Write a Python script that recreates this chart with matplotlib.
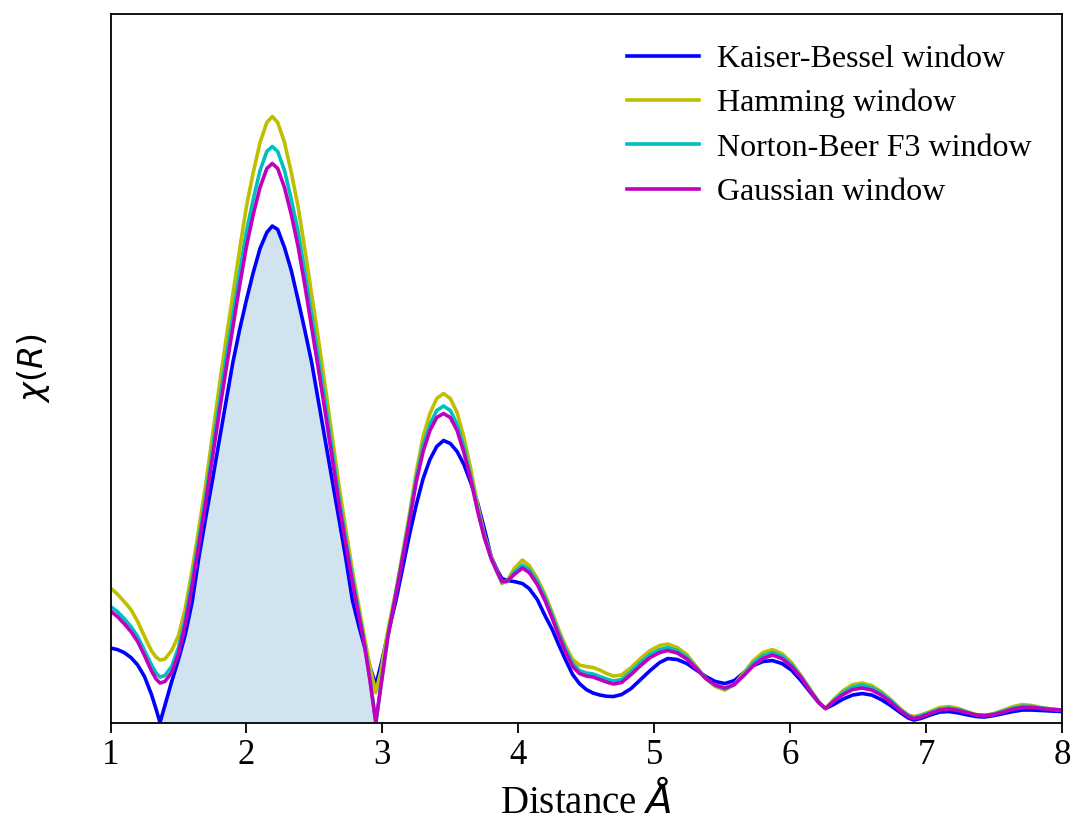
import matplotlib.pyplot as plt
import numpy as np

plt.rcParams['font.family'] = ['Liberation Serif', 'DejaVu Serif']
plt.rcParams['mathtext.fontset'] = 'dejavusans'

# distance grid (Angstrom) and |chi(R)| (arbitrary units)
distance = [1.00, 1.05, 1.10, 1.15, 1.20, 1.25, 1.30, 1.335, 1.364, 1.40,
            1.45, 1.50, 1.55, 1.60, 1.65, 1.70, 1.75, 1.80, 1.85, 1.90,
            1.95, 2.00, 2.05, 2.10, 2.15, 2.19, 2.23, 2.28, 2.33, 2.38,
            2.43, 2.48, 2.53, 2.58, 2.63, 2.68, 2.73, 2.78, 2.83, 2.87,
            2.91, 2.952, 2.99, 3.04, 3.10, 3.15, 3.20, 3.25, 3.30, 3.35,
            3.40, 3.45, 3.50, 3.55, 3.60, 3.65, 3.70, 3.75, 3.80, 3.85,
            3.88, 3.92, 3.97, 4.03, 4.08, 4.14, 4.20, 4.25, 4.30, 4.35,
            4.40, 4.45, 4.50, 4.55, 4.60, 4.65, 4.70, 4.76, 4.83, 4.90,
            4.97, 5.04, 5.10, 5.17, 5.24, 5.31, 5.38, 5.45, 5.52, 5.59,
            5.66, 5.73, 5.80, 5.87, 5.94, 6.01, 6.08, 6.15, 6.21, 6.26,
            6.32, 6.39, 6.46, 6.53, 6.60, 6.67, 6.74, 6.81, 6.87, 6.91,
            6.96, 7.03, 7.10, 7.17, 7.24, 7.31, 7.37, 7.43, 7.50, 7.57,
            7.64, 7.71, 7.78, 7.85, 7.92, 8.00]

kaiser = [74.5, 73, 70, 65, 57.5, 46, 28.5, 13.5, 0, 17,
          41, 63, 88, 120, 165, 204.5, 242.5, 282, 321, 360,
          393, 422.5, 450, 474, 490, 496.5, 493, 475, 452, 422.5,
          392, 360, 321, 282, 243, 204, 165, 122, 95, 75,
          55, 37.5, 58, 88, 122, 155, 188, 218, 244, 263,
          276, 282, 279, 271, 258, 240, 220, 194, 166, 151,
          144, 142, 141, 139, 134, 123, 106, 93, 77, 62,
          48, 39, 33, 29.5, 27.5, 26.3, 26, 28, 34, 43,
          52, 60, 64, 63, 59, 52.5, 46, 41, 39, 42,
          50, 57, 61, 62, 59, 52.5, 42, 30, 20, 14,
          18, 23.5, 27.5, 29, 27.5, 23, 17, 10, 4.5, 2.5,
          4, 7.5, 10.5, 11, 9.5, 7.5, 6, 5.5, 7, 9,
          11, 12.5, 12.5, 12, 11.5, 11]

hamming = [134.5, 128.5, 121, 113, 101, 86, 72, 65.5, 62.5, 63.5,
           72, 87, 114, 152, 194, 238, 287, 336, 383, 428,
           473, 516, 550, 580, 600, 606, 600, 580, 550, 516,
           473, 428, 383, 336, 287, 238, 194, 152, 114, 84,
           55, 30, 52, 92, 132, 170, 209, 251, 286, 309,
           324, 329, 324, 310, 285, 254, 218, 188, 166, 149,
           139, 142, 154, 162.5, 157, 144, 127, 110, 92, 76,
           63, 57.5, 56, 55, 52.5, 49, 46.5, 47.5, 55, 64,
           72, 77, 78.5, 75, 68, 56, 44, 36, 32.5, 38,
           50, 62, 70, 73, 69, 60, 47, 33, 21, 14,
           23, 32, 38, 39.5, 37, 31, 23, 14, 7.5, 6,
           7.5, 11, 15, 16, 14, 10.5, 8, 7, 9, 12.5,
           16, 18, 17, 15, 13.5, 12.5]

norton_beer = [116, 111, 104, 96, 86, 72, 58, 49.5, 45.5, 47,
               56, 75, 104, 142, 184, 226, 273, 320, 364, 407,
               450, 491, 523, 552, 571, 576, 571, 552, 523, 491,
               450, 407, 364, 320, 273, 226, 184, 145, 108, 78,
               42, 0, 38, 86, 130, 167, 205, 245, 277, 298,
               312, 316.5, 312, 298, 275, 246, 214, 186, 165, 149,
               140, 141, 150, 157.5, 153, 141, 124, 107, 89, 73,
               59, 52, 49.5, 48.5, 46, 43.5, 41.5, 43, 51, 60,
               68, 73, 75, 72, 65.5, 55, 44, 37, 33.5, 38,
               48.5, 59.5, 67, 70, 66.5, 58, 46, 32, 20.5, 14,
               22, 30, 35.5, 37.5, 35, 29.5, 22, 13, 7, 5,
               6.5, 10, 13.5, 14.5, 13, 10, 7.5, 7, 8.5, 11.5,
               14.5, 16.5, 16, 14.5, 13.5, 12.5]

gaussian = [111.5, 106, 99, 91, 81, 67, 52, 43.5, 39.5, 41,
            50, 69, 98, 136, 178, 220, 265, 310, 353, 395,
            437, 476, 508, 535, 554, 559, 554, 535, 508, 476,
            437, 395, 353, 310, 265, 220, 179, 140, 105, 76,
            41, 0, 37, 85, 128, 165, 202, 241, 271, 292,
            305, 309, 305, 292, 270, 243, 212, 185, 164, 149,
            141, 141.5, 148, 154.5, 150, 138, 121, 104, 86, 70,
            56, 49, 46.5, 45.5, 43, 40.5, 38.5, 40, 48, 57,
            65, 70, 72, 69.5, 63.5, 54, 44, 37.5, 34.5, 38,
            47, 57, 64, 67.5, 64, 56, 45, 31, 20, 14,
            21, 28, 33, 34.5, 32.5, 27.5, 20.5, 12, 6, 4,
            5.5, 9, 12.5, 13.5, 12, 9.5, 7.5, 7, 8, 10.5,
            13.5, 15, 15, 14, 13, 12.5]

labels = ['Kaiser-Bessel window', 'Hamming window', 'Norton-Beer F3 window', 'Gaussian window']
colors = ['b', 'y', 'c', 'm']

fig = plt.figure(figsize=(10.73, 8.22), dpi=100)
ax = fig.add_axes([0.103, 0.121, 0.8867, 0.862])

x = np.array(distance)
kb = np.array(kaiser)
gs = np.array(gaussian)
first_shell = (x >= 1.364) & (x <= 2.952)
ax.fill_between(x, 0, np.minimum(kb, gs), where=first_shell, color='C0', alpha=0.2, lw=0)

for y, lab, c in zip([kaiser, hamming, norton_beer, gaussian], labels, colors):
    ax.plot(distance, y, color=c, lw=2.6, label=lab)

ax.set_xlim(1, 8)
ax.set_ylim(0, 708.5)
ax.set_yticks([])
ax.tick_params(axis='x', direction='out', length=7, width=1.3, labelsize=25, pad=5)
for s in ax.spines.values():
    s.set_linewidth(1.3)

ax.set_xlabel(r'Distance $\AA$', fontsize=28, labelpad=6)
ax.set_ylabel(r'$\chi(R)$', fontsize=24, labelpad=42)

ax.legend(loc='upper right', frameon=False, fontsize=23, handlelength=2.25,
          handletextpad=0.56, labelspacing=0.47, borderaxespad=0.55)

fig.savefig('out.png', dpi=100)
